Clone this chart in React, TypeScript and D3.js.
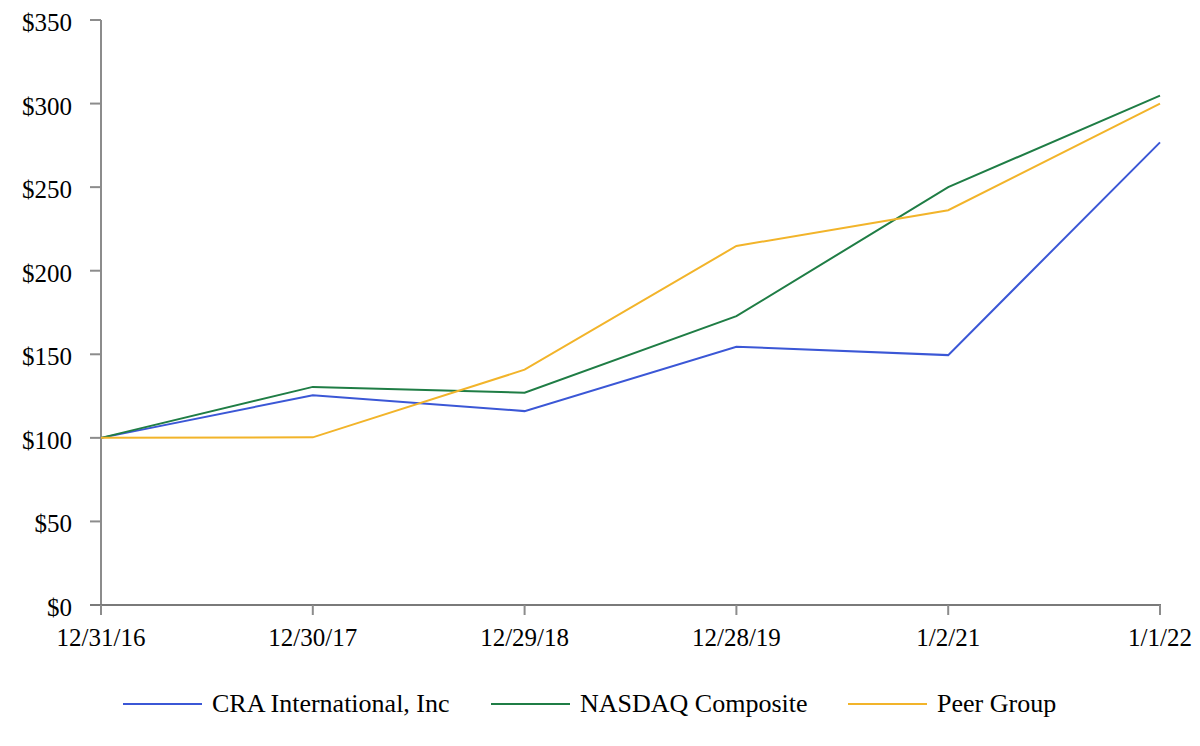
import React from "react";
import * as d3 from "d3";

const categories = ["12/31/16", "12/30/17", "12/29/18", "12/28/19", "1/2/21", "1/1/22"];
const craValues = [100, 125.5, 116, 154.5, 149.5, 276.8];
const nasdaqValues = [100, 130.5, 127, 172.8, 250, 304.8];
const peerValues = [100, 100.3, 140.8, 214.8, 236.2, 300];
const yTicks = [0, 50, 100, 150, 200, 250, 300, 350];
const seriesNames = ["CRA International, Inc", "NASDAQ Composite", "Peer Group"];
const seriesColors = ["#3b57d6", "#1f7d45", "#f2b42a"];

const W = 1200;
const H = 746;
const left = 101;
const right = 1160;
const top = 20;
const bottom = 605;
const FONT = "'Liberation Serif', 'Times New Roman', Times, serif";

export default function App() {
  const x = d3.scalePoint<string>().domain(categories).range([left, right]);
  const y = d3.scaleLinear().domain([0, 350]).range([bottom, top]);
  const line = d3
    .line<number>()
    .x((_, i) => x(categories[i]) as number)
    .y((d) => y(d));
  const allSeries = [craValues, nasdaqValues, peerValues];
  const legendX = [123, 491, 848];

  return (
    <svg
      width={W}
      height={H}
      style={{ position: "absolute", left: 0, top: 0, background: "#fff" }}
    >
      {/* y axis */}
      <line x1={left} x2={left} y1={top} y2={bottom} stroke="#8c8c8c" strokeWidth={2} />
      {yTicks.map((t) => (
        <g key={t}>
          <line x1={left - 11} x2={left} y1={y(t)} y2={y(t)} stroke="#8c8c8c" strokeWidth={2} />
          <text
            x={72}
            y={y(t) + 11}
            textAnchor="end"
            fontSize={25}
            fill="#000"
            style={{ fontFamily: FONT }}
          >
            {"$" + t}
          </text>
        </g>
      ))}
      {/* x axis */}
      <line x1={left - 11} x2={right + 1} y1={bottom} y2={bottom} stroke="#7a7a7a" strokeWidth={2} />
      {categories.map((c) => (
        <g key={c}>
          <line x1={x(c)} x2={x(c)} y1={bottom} y2={bottom + 10} stroke="#8c8c8c" strokeWidth={2} />
          <text
            x={x(c)}
            y={646}
            textAnchor="middle"
            fontSize={25}
            fill="#000"
            style={{ fontFamily: FONT }}
          >
            {c}
          </text>
        </g>
      ))}
      {/* series */}
      {allSeries.map((s, i) => (
        <path key={i} d={line(s) || ""} fill="none" stroke={seriesColors[i]} strokeWidth={2} />
      ))}
      {/* legend */}
      {seriesNames.map((n, i) => (
        <g key={n}>
          <line x1={legendX[i]} x2={legendX[i] + 79} y1={704} y2={704} stroke={seriesColors[i]} strokeWidth={2} />
          <text
            x={legendX[i] + 89}
            y={712}
            fontSize={26}
            fill="#000"
            style={{ fontFamily: FONT }}
          >
            {n}
          </text>
        </g>
      ))}
    </svg>
  );
}
